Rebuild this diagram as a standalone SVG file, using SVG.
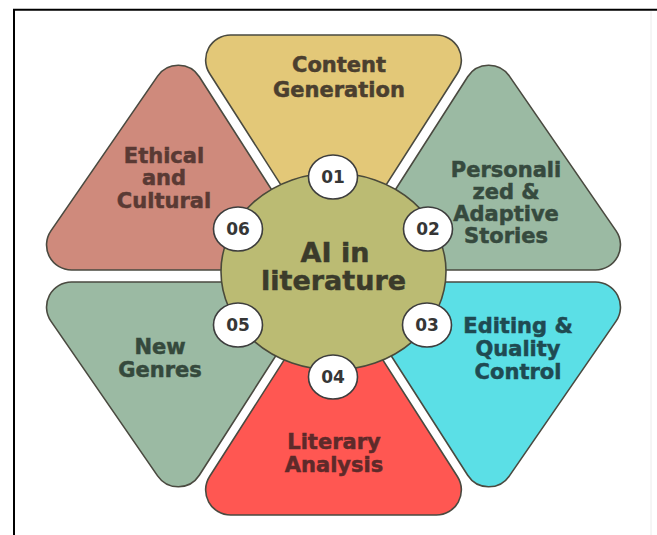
<svg xmlns="http://www.w3.org/2000/svg" width="657" height="535" viewBox="0 0 657 535">
  <style>
    .seg { stroke: #4a4a40; stroke-width: 1.6; stroke-linejoin: round; }
    .lbl { font-family: "DejaVu Sans", "Liberation Sans", sans-serif; font-weight: bold; font-size: 21px; text-anchor: middle; stroke-width: 0.5; }
    .hub { fill: #BBBB73; stroke: #4a4a3a; stroke-width: 1.6; }
    .hubtxt { font-family: "DejaVu Sans", "Liberation Sans", sans-serif; font-weight: bold; font-size: 27px; text-anchor: middle; fill: #3b3b2b; stroke: #3b3b2b; stroke-width: 0.5; }
    .num { fill: #ffffff; stroke: #3d3d3d; stroke-width: 1.6; }
    .numtxt { font-family: "DejaVu Sans", "Liberation Sans", sans-serif; font-weight: bold; font-size: 17px; text-anchor: middle; fill: #363636; }
  </style>

  <rect x="0" y="0" width="657" height="535" fill="#ffffff"/>

  <!-- frame -->
  <g id="frame" fill="none">
    <line x1="13" y1="9.7" x2="657" y2="9.7" stroke="#000" stroke-width="2"/>
    <line x1="14" y1="9" x2="14" y2="535" stroke="#000" stroke-width="2"/>
    <line x1="651" y1="11" x2="651" y2="535" stroke="#ececec" stroke-width="1"/>
  </g>

  <!-- segments of the hexagon -->
  <g id="seg-content-generation">
    <path class="seg" fill="#E3C878" d="M230.7 35 L436.3 35 A25 25 0 0 1 457.4 73.5 L354.6 234.1 A25 25 0 0 1 312.4 234.1 L209.6 73.5 A25 25 0 0 1 230.7 35 Z"/>
    <text class="lbl" fill="#4b3f2f" stroke="#4b3f2f"><tspan x="339" y="72">Content</tspan><tspan x="339" y="97">Generation</tspan></text>
  </g>

  <g id="seg-personalized">
    <path class="seg" fill="#9BBAA3" d="M467.7 76.7 A25 25 0 0 1 509.4 76.1 L616.1 230.9 A25 25 0 0 1 595.5 270 L389.7 270 A25 25 0 0 1 368.6 231.5 Z"/>
    <text class="lbl" fill="#364a3e" stroke="#364a3e"><tspan x="506" y="177">Personali</tspan><tspan x="506" y="199">zed &amp;</tspan><tspan x="506" y="221">Adaptive</tspan><tspan x="506" y="243">Stories</tspan></text>
  </g>

  <g id="seg-editing">
    <path class="seg" fill="#5BDFE6" d="M509.4 475.9 A25 25 0 0 1 467.7 475.3 L368.6 320.5 A25 25 0 0 1 389.7 282 L595.5 282 A25 25 0 0 1 616.1 321.1 Z"/>
    <text class="lbl" fill="#1f4a52" stroke="#1f4a52"><tspan x="518" y="333">Editing &amp;</tspan><tspan x="518" y="356">Quality</tspan><tspan x="518" y="379">Control</tspan></text>
  </g>

  <g id="seg-literary-analysis">
    <path class="seg" fill="#FF5752" d="M436.3 515 L230.7 515 A25 25 0 0 1 209.6 476.5 L312.4 315.9 A25 25 0 0 1 354.6 315.9 L457.4 476.5 A25 25 0 0 1 436.3 515 Z"/>
    <text class="lbl" fill="#5e2a2a" stroke="#5e2a2a"><tspan x="334" y="449">Literary</tspan><tspan x="334" y="472">Analysis</tspan></text>
  </g>

  <g id="seg-new-genres">
    <path class="seg" fill="#9BBAA3" d="M199.3 475.3 A25 25 0 0 1 157.6 475.9 L50.9 321.1 A25 25 0 0 1 71.5 282 L277.3 282 A25 25 0 0 1 298.4 320.5 Z"/>
    <text class="lbl" fill="#35493c" stroke="#35493c"><tspan x="160" y="354">New</tspan><tspan x="160" y="377">Genres</tspan></text>
  </g>

  <g id="seg-ethical">
    <path class="seg" fill="#CF8A7C" d="M157.6 76.1 A25 25 0 0 1 199.3 76.7 L298.4 231.5 A25 25 0 0 1 277.3 270 L71.5 270 A25 25 0 0 1 50.9 230.9 Z"/>
    <text class="lbl" fill="#5a3a34" stroke="#5a3a34"><tspan x="164" y="163">Ethical</tspan><tspan x="164" y="185">and</tspan><tspan x="164" y="208">Cultural</tspan></text>
  </g>

  <!-- central hub -->
  <g id="hub">
    <ellipse class="hub" cx="333.5" cy="271.5" rx="112.5" ry="98.5"/>
    <text class="hubtxt" x="335" y="262">AI in</text>
    <text class="hubtxt" x="333.5" y="290">literature</text>
  </g>

  <!-- numbered badges -->
  <g id="badge-01"><ellipse class="num" cx="333" cy="177" rx="24.5" ry="22"/><text class="numtxt" x="333" y="183">01</text></g>
  <g id="badge-02"><ellipse class="num" cx="428" cy="229" rx="24.5" ry="22"/><text class="numtxt" x="428" y="235">02</text></g>
  <g id="badge-03"><ellipse class="num" cx="427" cy="325" rx="24.5" ry="22"/><text class="numtxt" x="427" y="331">03</text></g>
  <g id="badge-04"><ellipse class="num" cx="333" cy="377" rx="24.5" ry="22"/><text class="numtxt" x="333" y="383">04</text></g>
  <g id="badge-05"><ellipse class="num" cx="238" cy="325" rx="24.5" ry="22"/><text class="numtxt" x="238" y="331">05</text></g>
  <g id="badge-06"><ellipse class="num" cx="238" cy="229" rx="24.5" ry="22"/><text class="numtxt" x="238" y="235">06</text></g>

  <!-- no connectors in this figure -->
  <g id="connectors"/>
</svg>
